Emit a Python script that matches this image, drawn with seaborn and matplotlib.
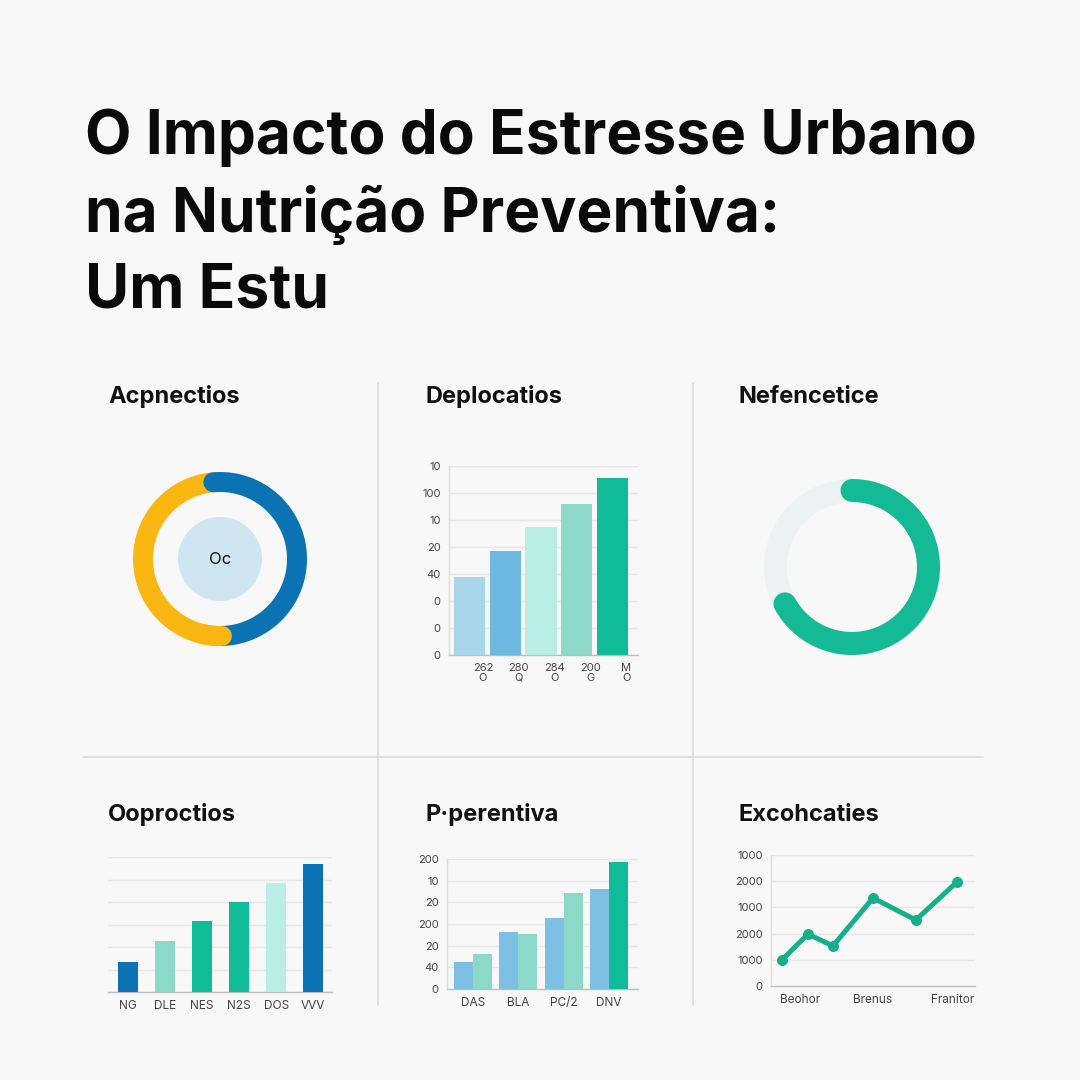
import numpy as np
import pandas as pd
import matplotlib
matplotlib.use("Agg")
import matplotlib.pyplot as plt
import seaborn as sns
from matplotlib.lines import Line2D

sns.set_theme(style="white")
plt.rcParams['font.family'] = ['Inter', 'DejaVu Sans']

# ---------------- data ----------------
title_lines = ["O Impacto do Estresse Urbano", "na Nutrição Preventiva:", "Um Estu"]
panel_titles = ["Acpnectios", "Deplocatios", "Nefencetice", "Ooproctios", "P·perentiva", "Excohcaties"]

donut1_labels = ["Amarelo", "Azul"]
donut1_shares = [49, 51]
donut1_center = "Oc"

bars2_cats = ["262\nO", "280\nQ", "284\nO", "200\nG", "M\nO"]
bars2_vals = [2.9, 3.85, 4.75, 5.6, 6.55]
bars2_yticklabels = ["0", "0", "0", "40", "20", "10", "100", "10"]

donut3_share = 67

bars4_cats = ["NG", "DLE", "NES", "N2S", "DOS", "VVV"]
bars4_vals = [1.35, 2.25, 3.15, 4.0, 4.85, 5.7]

bars5_cats = ["DAS", "BLA", "PC/2", "DNV"]
bars5_a = [1.25, 2.65, 3.3, 4.6]
bars5_b = [1.6, 2.55, 4.45, 5.85]
bars5_yticklabels = ["0", "40", "20", "200", "20", "10", "200"]

line6_x = [0.54, 1.81, 3.04, 5.0, 7.1, 9.12]
line6_y = [1.0, 1.98, 1.53, 3.36, 2.52, 3.97]
line6_xtick_pos = [1.42, 5.0, 8.92]
line6_xticklabels = ["Beohor", "Brenus", "Franitor"]
line6_yticklabels = ["0", "1000", "2000", "1000", "2000", "1000"]

# ---------------- colours ----------------
BG = "#f8f8f8"
YELLOW = "#fbb711"
DBLUE = "#0b72b3"
LBLUE = "#a9d6ea"
MBLUE = "#6db9e0"
MINT_L = "#b9eee7"
MINT = "#8cd9c9"
TEAL = "#10bb98"
TRACK = "#eef1f2"
GRID = "#e6e6e6"
TICK = "#444444"

W = H = 1080
fig = plt.figure(figsize=(10.8, 10.8), dpi=100, facecolor=BG)


def ax_at(x0, y0, x1, y1):
    ax = fig.add_axes([x0 / W, 1 - y1 / H, (x1 - x0) / W, (y1 - y0) / H])
    ax.set_facecolor("none")
    return ax


def px2pt(p):
    return p * 72 / 100


# ---------------- title ----------------
for i, line in enumerate(title_lines):
    fig.text(85 / W, 1 - (138 + 77 * i) / H, line, fontsize=43.5, fontweight="bold",
             color="#0a0a0a", ha="left", va="center")

# panel titles
pt_pos = [(108, 397), (425, 397), (739, 397), (108, 815), (425, 815), (739, 815)]
for t, (x, y) in zip(panel_titles, pt_pos):
    fig.text(x / W, 1 - y / H, t, fontsize=17, fontweight="bold", color="#111111",
             ha="left", va="center")

# separators
sep = "#dadada"
fig.add_artist(Line2D([378 / W, 378 / W], [1 - 383 / H, 1 - 1005 / H], color=sep, lw=1.2))
fig.add_artist(Line2D([693 / W, 693 / W], [1 - 383 / H, 1 - 1005 / H], color=sep, lw=1.2))
fig.add_artist(Line2D([83 / W, 983 / W], [1 - 757 / H, 1 - 757 / H], color=sep, lw=1.2))


def arc(ax, r, start, sweep, color, width_px, n=200):
    th = np.radians(np.linspace(start, start + sweep, n))
    ax.plot(r * np.cos(th), r * np.sin(th), color=color, lw=px2pt(width_px),
            solid_capstyle="round")


# ---------------- panel 1: donut ----------------
ax1 = ax_at(120, 459, 320, 659)
ax1.set_xlim(-100, 100)
ax1.set_ylim(-100, 100)
ax1.axis("off")
start = 95
yellow_sweep = donut1_shares[0] / sum(donut1_shares) * 360
blue_sweep = donut1_shares[1] / sum(donut1_shares) * 360
arc(ax1, 77, start, yellow_sweep, YELLOW, 20)
arc(ax1, 77, start, -blue_sweep, DBLUE, 20)
arc(ax1, 77, start + yellow_sweep - 15, 15, YELLOW, 20)
ax1.add_patch(plt.Circle((0, 0), 42, color="#cfe6f2", lw=0))
ax1.text(0, 0, donut1_center, ha="center", va="center", fontsize=12, color="#111111")

bar_kw = dict(saturation=1, linewidth=0, edgecolor="none")

# ---------------- panel 2: bars ----------------
ax2 = ax_at(449, 466, 638, 655)
df2 = pd.DataFrame({"cat": bars2_cats, "val": bars2_vals})
sns.barplot(data=df2, x="cat", y="val", hue="cat", palette=[LBLUE, MBLUE, MINT_L, MINT, TEAL],
            width=0.87, legend=False, ax=ax2, zorder=3, **bar_kw)
ax2.set_xlim(-0.57, 4.71)
ax2.set_ylim(0, 7)
ax2.set_yticks(range(8))
ax2.set_yticklabels(bars2_yticklabels)
ax2.set_xticks([i + 0.38 for i in range(5)])
ax2.set_xticklabels(bars2_cats, linespacing=0.9)

# ---------------- panel 3: progress ring ----------------
ax3 = ax_at(752, 467, 952, 667)
ax3.set_xlim(-100, 100)
ax3.set_ylim(-100, 100)
ax3.axis("off")
arc(ax3, 76.5, 0, 360, TRACK, 23)
arc(ax3, 76.5, 90, -donut3_share / 100 * 360, "#14b995", 23)

# ---------------- panel 4: bars ----------------
ax4 = ax_at(108, 857, 332, 992)
df4 = pd.DataFrame({"cat": bars4_cats, "val": bars4_vals})
sns.barplot(data=df4, x="cat", y="val", hue="cat",
            palette=[DBLUE, MINT, TEAL, TEAL, MINT_L, DBLUE],
            width=0.52, legend=False, ax=ax4, zorder=3, **bar_kw)
ax4.set_xlim(-0.54, 5.51)
ax4.set_ylim(0, 6)
ax4.set_yticks(range(7))
ax4.set_yticklabels([])
ax4.tick_params(axis="y", length=0)

# ---------------- panel 5: grouped bars ----------------
ax5 = ax_at(447, 859, 638, 989)
df5 = pd.DataFrame({
    "cat": bars5_cats * 2,
    "val": bars5_a + bars5_b,
    "serie": ["A"] * 4 + ["B"] * 4,
})
sns.barplot(data=df5, x="cat", y="val", hue="serie", palette=["#7dc0e4", MINT],
            width=0.84, legend=False, ax=ax5, zorder=3, **bar_kw)
# last bar of second series is darker teal
for p in ax5.patches:
    if abs(p.get_height() - bars5_b[-1]) < 1e-9:
        p.set_facecolor(TEAL)
ax5.set_xlim(-0.57, 3.64)
ax5.set_ylim(0, 6)
ax5.set_yticks(range(7))
ax5.set_yticklabels(bars5_yticklabels)

# ---------------- panel 6: line ----------------
ax6 = ax_at(771, 855, 975, 986)
df6 = pd.DataFrame({"x": line6_x, "y": line6_y})
sns.lineplot(data=df6, x="x", y="y", color="#14b08c", lw=px2pt(5), marker="o",
             markersize=px2pt(11), markeredgewidth=0, ax=ax6, zorder=3)
ax6.set_xlim(0, 10)
ax6.set_ylim(0, 5)
ax6.set_yticks(range(6))
ax6.set_yticklabels(line6_yticklabels)
ax6.set_xticks(line6_xtick_pos)
ax6.set_xticklabels(line6_xticklabels)

# common styling for cartesian panels
for ax in [ax2, ax4, ax5, ax6]:
    ax.set_xlabel("")
    ax.set_ylabel("")
    ax.grid(axis="y", color=GRID, lw=1)
    ax.set_axisbelow(True)
    for s in ["top", "right"]:
        ax.spines[s].set_visible(False)
    ax.spines["bottom"].set_color("#bdbdbd")
    ax.spines["bottom"].set_linewidth(1)
    ax.spines["left"].set_color("#dddddd")
    ax.spines["left"].set_linewidth(1)
    ax.tick_params(axis="both", length=0, labelsize=8, labelcolor=TICK, pad=6)
ax4.spines["left"].set_visible(False)
for lbl in ax4.get_xticklabels() + ax5.get_xticklabels() + ax6.get_xticklabels():
    lbl.set_fontsize(8.5)

fig.savefig("out.png", dpi=100, facecolor=BG)
